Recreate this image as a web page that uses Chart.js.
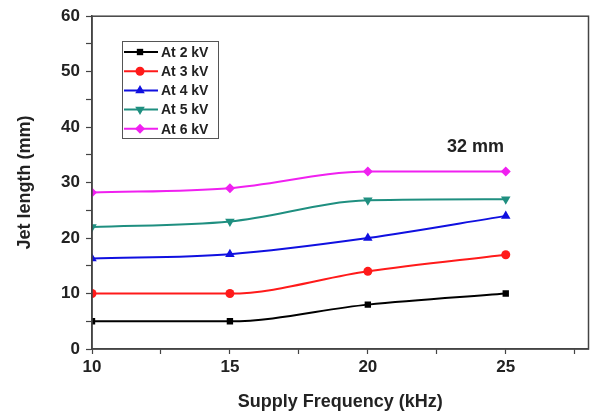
<!DOCTYPE html>
<html>
<head>
<meta charset="utf-8">
<script src="https://cdn.jsdelivr.net/npm/chart.js@4/dist/chart.umd.min.js"></script>
<style>
  html, body { margin: 0; padding: 0; background: #fff; }
  #wrap { width: 594px; height: 417px; }
</style>
</head>
<body>
<div id="wrap"><canvas id="c" width="594" height="417"></canvas></div>
<script>
const frequencies = [10, 15, 20, 25];
const at2kV = [5, 5, 8, 10];
const at3kV = [10, 10, 14, 17];
const at4kV = [16.3, 17.1, 20, 24];
const at5kV = [22, 23, 26.8, 27];
const at6kV = [28.2, 29, 32, 32];
const seriesLabels = ['At 2 kV', 'At 3 kV', 'At 4 kV', 'At 5 kV', 'At 6 kV'];
const annotationText = '32 mm';

const colors = ['#000000', '#ff1a1a', '#1010e0', '#1f8f80', '#f020f0'];
const shapes = ['rect', 'circle', 'triangle', 'triangle', 'rectRot'];
const rotations = [0, 0, 0, 180, 0];
const radii = [4.5, 4.5, 5.5, 5.5, 5];
const allSeries = [at2kV, at3kV, at4kV, at5kV, at6kV];

const FONT = '"Liberation Sans", Arial, sans-serif';

const datasets = allSeries.map((vals, i) => ({
  label: seriesLabels[i],
  data: frequencies.map((f, j) => ({ x: f, y: vals[j] })),
  borderColor: colors[i],
  backgroundColor: colors[i],
  borderWidth: 2,
  pointStyle: shapes[i],
  pointRotation: rotations[i],
  pointRadius: radii[i],
  pointBorderWidth: 0,
  cubicInterpolationMode: 'monotone'
}));

const framePlugin = {
  id: 'frame',
  afterDatasetsDraw(chart) {
    const { ctx, chartArea: a } = chart;
    ctx.save();
    ctx.strokeStyle = '#444';
    ctx.lineWidth = 1.5;
    ctx.strokeRect(a.left, a.top, a.right - a.left, a.bottom - a.top);

    // legend box
    const bx = 122, by = 41, bw = 96, bh = 97;
    ctx.strokeStyle = '#555';
    ctx.lineWidth = 1;
    ctx.strokeRect(bx + 0.5, by + 0.5, bw, bh);
    ctx.font = 'bold 14px ' + FONT;
    ctx.textBaseline = 'middle';
    ctx.textAlign = 'left';
    chart.data.datasets.forEach((ds, i) => {
      const yy = 52 + i * 19.2;
      ctx.strokeStyle = ds.borderColor;
      ctx.lineWidth = 2;
      ctx.beginPath();
      ctx.moveTo(124, yy);
      ctx.lineTo(158, yy);
      ctx.stroke();
      ctx.fillStyle = ds.backgroundColor;
      Chart.helpers.drawPoint(ctx, {
        pointStyle: ds.pointStyle,
        rotation: ds.pointRotation,
        radius: ds.pointRadius,
        borderWidth: 0
      }, 140, yy);
      ctx.fillStyle = '#222';
      ctx.fillText(ds.label, 161, yy + 1);
    });

    // annotation
    ctx.font = 'bold 18px ' + FONT;
    ctx.fillStyle = '#222';
    ctx.textAlign = 'left';
    ctx.fillText(annotationText, 447, 147);
    ctx.restore();
  }
};

new Chart(document.getElementById('c'), {
  type: 'line',
  data: { datasets },
  options: {
    responsive: false,
    animation: false,
    layout: { padding: { top: 16, right: 3, left: 0, bottom: 0 } },
    plugins: { legend: { display: false }, tooltip: { enabled: false } },
    scales: {
      x: {
        type: 'linear',
        min: 10,
        max: 28,
        afterFit(s) { s.height = 68; },
        afterBuildTicks(s) {
          s.ticks = [10, 12.5, 15, 17.5, 20, 22.5, 25, 27.5].map(v => ({ value: v }));
        },
        ticks: {
          autoSkip: false,
          maxRotation: 0,
          color: '#222',
          padding: 3,
          font: { family: FONT, size: 17, weight: 'bold' },
          callback: v => (v % 5 === 0 ? String(v) : '')
        },
        grid: { drawOnChartArea: false, tickLength: 5, tickColor: '#444', tickWidth: 1.2 },
        border: { color: '#444', width: 1.5 },
        title: {
          display: true,
          text: 'Supply Frequency (kHz)',
          color: '#222',
          font: { family: FONT, size: 18, weight: 'bold' },
          padding: { top: 4, bottom: 4 }
        }
      },
      y: {
        min: 0,
        max: 60,
        afterFit(s) { s.width = 92; },
        ticks: {
          stepSize: 5,
          color: '#222',
          padding: 6,
          font: { family: FONT, size: 17, weight: 'bold' },
          callback: v => (v % 10 === 0 ? String(v) : '')
        },
        grid: { drawOnChartArea: false, tickLength: 6, tickColor: '#444', tickWidth: 1.2 },
        border: { color: '#444', width: 1.5 },
        title: {
          display: true,
          text: 'Jet length (mm)',
          color: '#222',
          font: { family: FONT, size: 18, weight: 'bold' },
          padding: { top: 14, bottom: 4 }
        }
      }
    }
  },
  plugins: [framePlugin]
});
</script>
</body>
</html>
